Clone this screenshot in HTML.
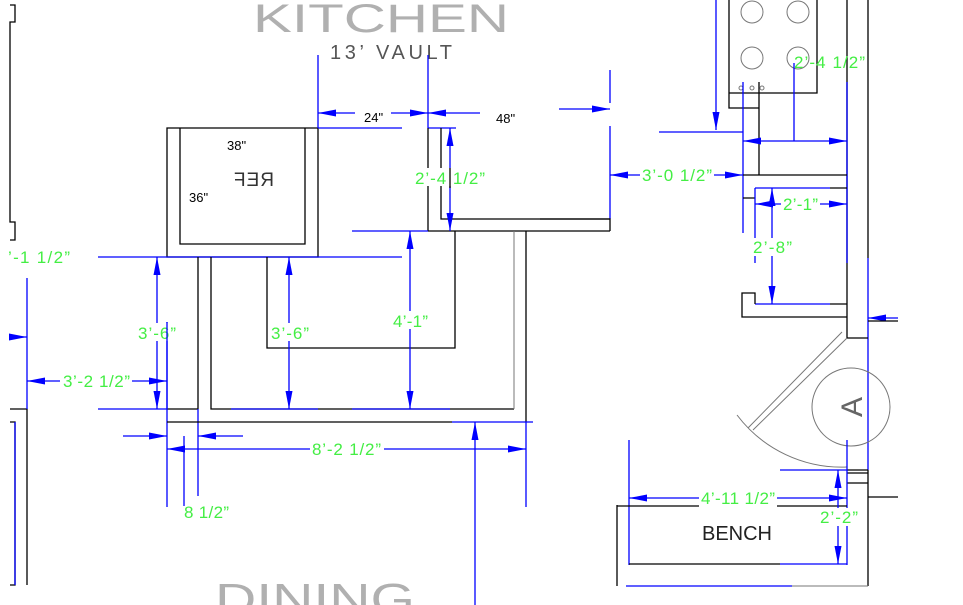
<!DOCTYPE html>
<html><head><meta charset="utf-8"><style>
html,body{margin:0;padding:0;background:#fff;}
svg{display:block;}
.k{stroke:#000;stroke-width:1.3;fill:none}
.b{stroke:#0000ff;stroke-width:1.3;fill:none}
.g{stroke:#777;stroke-width:1;fill:none}
.d{stroke:#0000ff;stroke-width:1.3;fill:none;marker-start:url(#ar);marker-end:url(#ar)}
.t{font-family:"Liberation Sans",sans-serif;fill:#44ee44;font-size:17px}
.n{font-family:"Liberation Sans",sans-serif;fill:#000;font-size:13px}
</style></head><body>
<svg width="963" height="605" viewBox="0 0 963 605" xmlns="http://www.w3.org/2000/svg">
<defs>
<marker id="ar" viewBox="0 0 18 7" refX="18" refY="3.5" markerUnits="userSpaceOnUse" markerWidth="18" markerHeight="7" orient="auto-start-reverse">
<path d="M0,0 L18,3.5 L0,7 z" fill="#0000ff"/></marker>
<marker id="ae" viewBox="0 0 18 7" refX="18" refY="3.5" markerUnits="userSpaceOnUse" markerWidth="18" markerHeight="7" orient="auto">
<path d="M0,0 L18,3.5 L0,7 z" fill="#0000ff"/></marker>
</defs>

<!-- titles -->
<text x="253" y="32" font-family="Liberation Sans, sans-serif" font-size="40" fill="#b0b0b0" textLength="256" lengthAdjust="spacingAndGlyphs">KITCHEN</text>
<text x="330" y="59" font-family="Liberation Sans, sans-serif" font-size="20" fill="#555" textLength="122" lengthAdjust="spacing">13’ VAULT</text>
<text x="215" y="614" font-family="Liberation Sans, sans-serif" font-size="44" fill="#b0b0b0" textLength="200" lengthAdjust="spacingAndGlyphs">DINING</text>

<!-- left bracket -->
<path class="k" d="M10,5 H15 V22 H10 V222 H15 V240 H10"/>
<path class="k" d="M10,409 H27 V585"/>
<path class="b" d="M27,278 V409"/>
<path class="k" d="M10,422 H15 V585 H10"/>
<path class="b" d="M15,422 V585"/>
<line class="b" x1="10" y1="337" x2="27" y2="337" marker-end="url(#ae)"/>

<!-- REF box -->
<path class="k" d="M167,128 H318 V257 H167 Z"/>
<path class="k" d="M180,128 V244 H305 V128"/>
<text class="n" x="227" y="150">38"</text>
<text class="n" x="189" y="202">36"</text>
<text x="-274" y="186" transform="scale(-1,1)" font-family="Liberation Sans, sans-serif" font-size="19" fill="#333" textLength="40">REF</text>

<!-- top dims -->
<path class="b" d="M318,55 V128 M428,55 V128 M318,128 H402 M428,128 H456"/>
<line class="d" x1="318" y1="113" x2="428" y2="113"/>
<rect x="355" y="105" width="36" height="14" fill="#fff"/>
<text class="n" x="364" y="122">24"</text>
<line class="b" x1="428" y1="113" x2="480" y2="113" marker-start="url(#ar)"/>
<text class="n" x="496" y="123">48"</text>
<line class="b" x1="559" y1="109" x2="610" y2="109" marker-end="url(#ae)"/>
<path class="b" d="M610,70 V103 M610,126 V219"/>
<path class="k" d="M540,219 H610 V231"/>

<!-- right cabinet -->
<path class="k" d="M428,128 V231 M441,128 V219 H610 M428,231 H610"/>
<path class="b" d="M352,231 H428"/>
<line class="d" x1="450" y1="128" x2="450" y2="231"/>
<rect x="414" y="168" width="72" height="18" fill="#fff"/>
<text class="t" x="415" y="184" textLength="70">2’-4 1/2”</text>
<line class="k" x1="450" y1="168" x2="450" y2="188"/>

<!-- lower left structure -->
<path class="b" d="M98,257 H402"/>
<text class="t" x="8" y="263" textLength="62">’-1 1/2”</text>
<path class="k" d="M198,257 V409 M211,257 V409 H514"/>
<path class="g" d="M514,231 V409"/>
<path class="b" d="M231,409 H318 M352,409 H450"/>
<path class="k" d="M526,231 V422"/>
<path class="b" d="M526,422 V507 M98,409 H167"/>
<path class="k" d="M167,409 H198"/>
<path class="b" d="M198,409 V496 M167,322 V507"/>
<path class="k" d="M167,422 H452"/>
<path class="b" d="M452,422 H533"/>
<path class="k" d="M267,257 V348 H455 V231"/>

<line class="d" x1="157" y1="257" x2="157" y2="409"/>
<rect x="137" y="323" width="40" height="18" fill="#fff"/>
<text class="t" x="138" y="339" textLength="38">3’-6”</text>
<line class="b" x1="167" y1="322" x2="167" y2="409"/>

<line class="d" x1="289" y1="257" x2="289" y2="409"/>
<rect x="270" y="323" width="40" height="18" fill="#fff"/>
<text class="t" x="271" y="339" textLength="38">3’-6”</text>

<line class="d" x1="410" y1="231" x2="410" y2="409"/>
<rect x="392" y="311" width="38" height="18" fill="#fff"/>
<text class="t" x="393" y="327" textLength="35">4’-1”</text>

<line class="d" x1="27" y1="381" x2="167" y2="381"/>
<rect x="60" y="371" width="72" height="18" fill="#fff"/>
<text class="t" x="63" y="387" textLength="67">3’-2 1/2”</text>

<line class="b" x1="123" y1="436" x2="167" y2="436" marker-end="url(#ae)"/>
<line class="b" x1="243" y1="436" x2="198" y2="436" marker-end="url(#ae)"/>
<path class="b" d="M184,436 V506"/>
<text class="t" x="184" y="518" textLength="45">8 1/2”</text>

<line class="d" x1="167" y1="449" x2="526" y2="449"/>
<rect x="310" y="440" width="74" height="18" fill="#fff"/>
<text class="t" x="312" y="455" textLength="69">8’-2 1/2”</text>
<line class="b" x1="475" y1="605" x2="475" y2="422" marker-end="url(#ae)"/>
<path class="k" d="M617,505 V586"/>

<!-- range -->
<path class="k" d="M729,0 V93 H817 V0 M729,93 V108 H759 M759,82 V175"/>
<g class="g">
<circle cx="752" cy="12" r="11"/><circle cx="798" cy="12" r="11"/>
<circle cx="752" cy="58" r="11"/><circle cx="798" cy="58" r="11"/>
<circle cx="741" cy="88" r="2"/><circle cx="752" cy="88" r="2"/><circle cx="762" cy="88" r="2"/>
</g>
<line class="b" x1="716" y1="0" x2="716" y2="130" marker-end="url(#ae)"/>
<path class="b" d="M659,132 H743 M743,82 V233"/>
<path class="k" d="M847,0 V338 M868,0 V258"/>
<path class="b" d="M847,82 V263 M868,258 V470"/>
<line class="d" x1="743" y1="141" x2="847" y2="141"/>
<path class="b" d="M794,141 V63"/>
<text class="t" x="794" y="68" textLength="71">2’-4 1/2”</text>
<path class="k" d="M743,175 H847"/>
<line class="d" x1="610" y1="175" x2="743" y2="175"/>
<rect x="640" y="165" width="74" height="18" fill="#fff"/>
<text class="t" x="642" y="181" textLength="70">3’-0 1/2”</text>
<path class="k" d="M830,188 H847 M743,198 H755"/>
<path class="b" d="M755,188 H830 M755,188 V263"/>
<line class="d" x1="755" y1="204" x2="847" y2="204"/>
<rect x="781" y="195" width="39" height="18" fill="#fff"/>
<text class="t" x="783" y="210" textLength="35">2’-1”</text>
<line class="d" x1="772" y1="188" x2="772" y2="304"/>
<rect x="752" y="238" width="42" height="18" fill="#fff"/>
<text class="t" x="753" y="253" textLength="39">2’-8”</text>
<path class="b" d="M755,304 H830"/>
<path class="k" d="M830,304 H847 M755,304 V293 H742 V317 H847"/>
<line class="b" x1="898" y1="318" x2="868" y2="318" marker-end="url(#ae)"/>
<path class="k" d="M868,321 H898 M847,338 H868"/>

<!-- door -->
<path class="g" d="M842,332 L748,428 M847,338 L753,430"/>
<path class="g" d="M737,415 A131,131 0 0 0 847,467"/>
<circle cx="851" cy="407" r="39" class="g"/>
<text x="0" y="0" transform="translate(862,407) rotate(-90)" text-anchor="middle" font-family="Liberation Sans, sans-serif" font-size="30" fill="#666">A</text>
<path class="k" d="M847,470 H868 M847,473 H868 M847,483 H868 M868,470 V586 M868,497 H898"/>
<path class="b" d="M847,440 V565 M780,470 H847 M629,440 V565"/>

<!-- bench -->
<path class="k" d="M617,506 H847 M629,564 H780"/>
<path class="b" d="M780,564 H847 M626,586 H792"/>
<path class="g" d="M792,586 H868"/>
<line class="d" x1="629" y1="498" x2="847" y2="498"/>
<rect x="699" y="489" width="78" height="18" fill="#fff"/>
<text class="t" x="701" y="504" textLength="74">4’-11 1/2”</text>
<line class="d" x1="838" y1="470" x2="838" y2="564"/>
<rect x="818" y="508" width="42" height="18" fill="#fff"/>
<text class="t" x="820" y="523" textLength="38">2’-2”</text>
<text x="702" y="540" font-family="Liberation Sans, sans-serif" font-size="20" fill="#222" textLength="70">BENCH</text>
</svg>
</body></html>
